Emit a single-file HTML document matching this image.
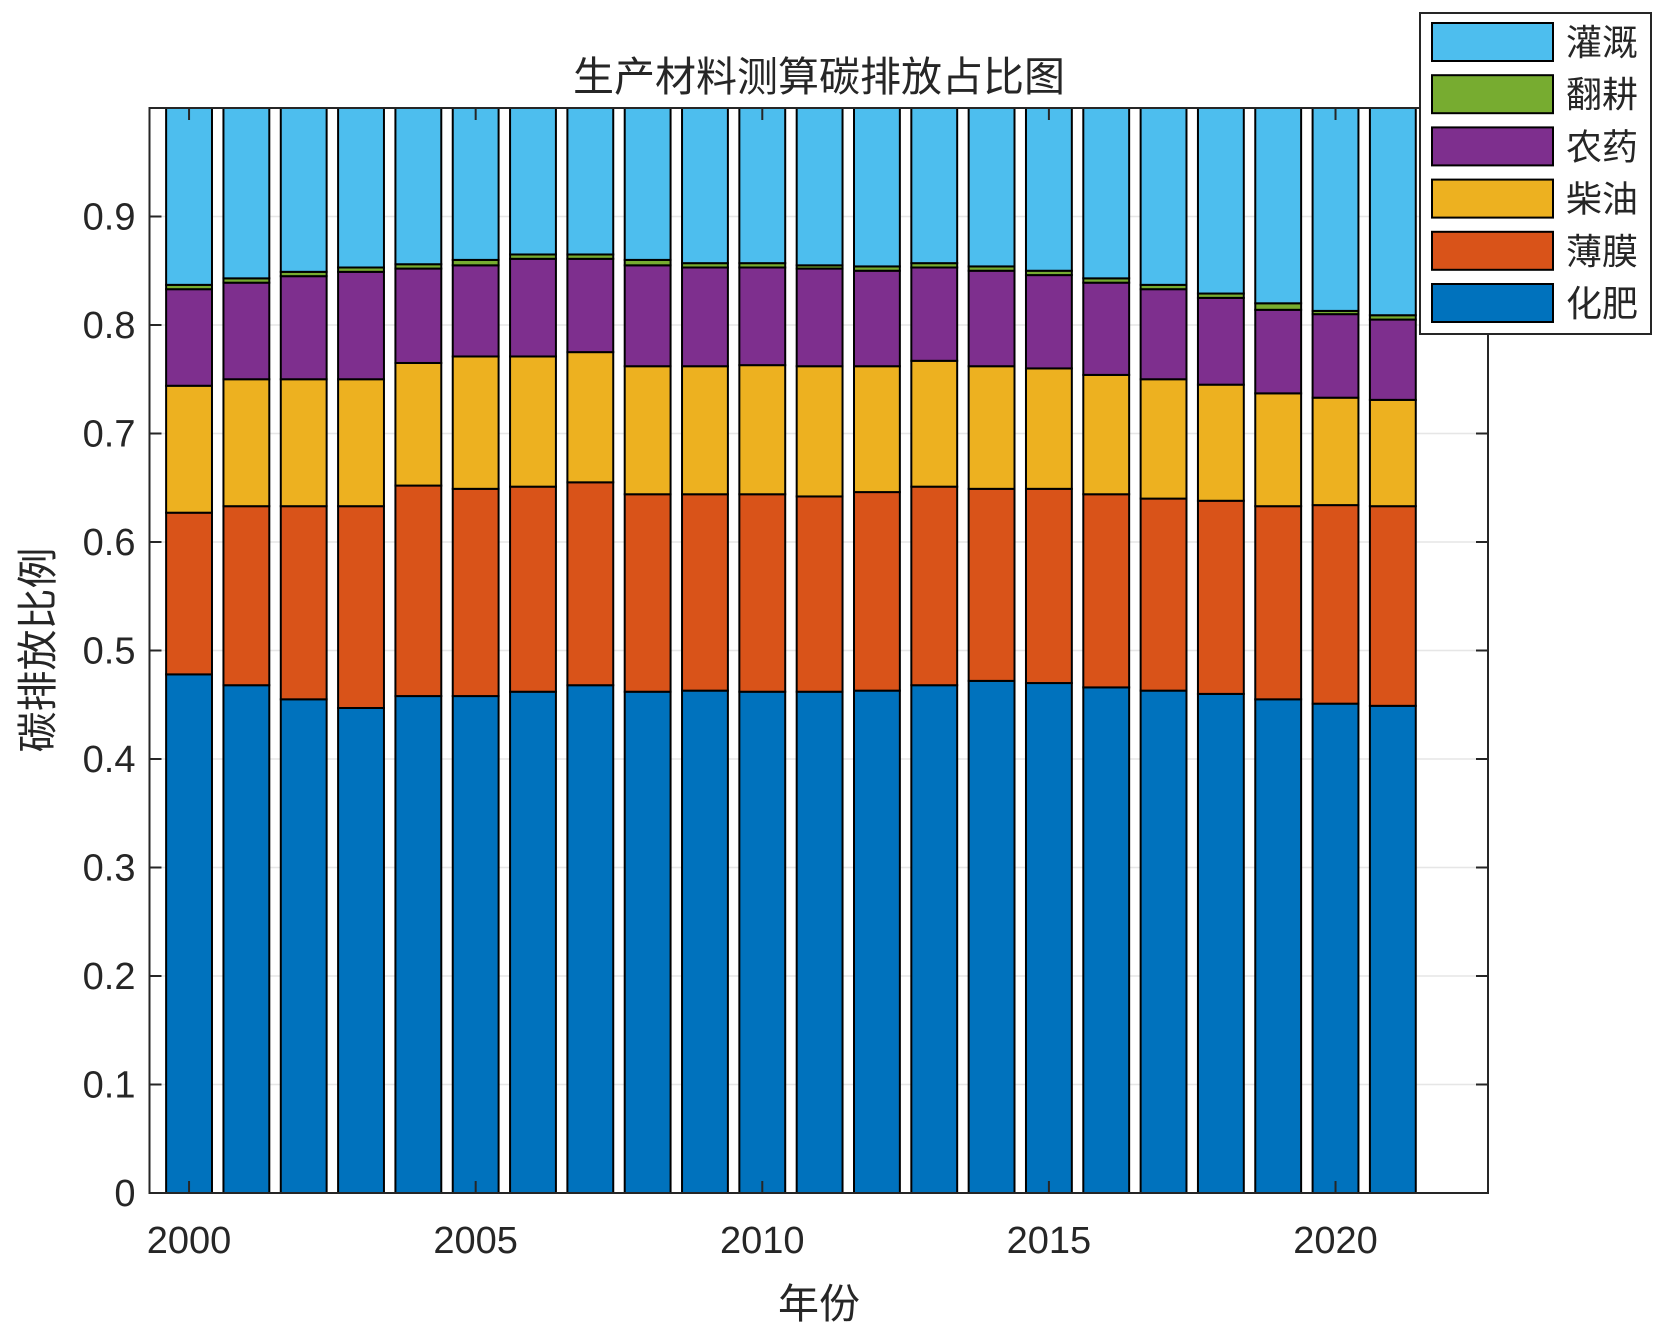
<!DOCTYPE html>
<html><head><meta charset="utf-8"><style>
html,body{margin:0;padding:0;background:#fff}
svg{display:block}
text{font-family:"Liberation Sans","Noto Sans CJK SC",sans-serif}
</style></head><body>
<svg id="chart" width="1663" height="1332" viewBox="0 0 1663 1332" xmlns="http://www.w3.org/2000/svg">
<rect width="1663" height="1332" fill="#fff"/>
<g id="grid"></g>
<g id="bars"></g>
<g id="axes"></g>
<text x="819" y="91" font-size="41" text-anchor="middle" fill="#262626">生产材料测算碳排放占比图</text>
<text x="819" y="1318" font-size="41" text-anchor="middle" fill="#262626">年份</text>
<text transform="translate(52,650) rotate(-90)" font-size="41" text-anchor="middle" fill="#262626">碳排放比例</text>
<g id="legend"></g>
</svg>
<script>
const years=[2000,2001,2002,2003,2004,2005,2006,2007,2008,2009,2010,2011,2012,2013,2014,2015,2016,2017,2018,2019,2020,2021];
const fertilizer=[0.478,0.468,0.455,0.447,0.458,0.458,0.462,0.468,0.462,0.463,0.462,0.462,0.463,0.468,0.472,0.470,0.466,0.463,0.460,0.455,0.451,0.449];
const film=[0.149,0.165,0.178,0.186,0.194,0.191,0.189,0.187,0.182,0.181,0.182,0.180,0.183,0.183,0.177,0.179,0.178,0.177,0.178,0.178,0.183,0.184];
const diesel=[0.117,0.117,0.117,0.117,0.113,0.122,0.120,0.120,0.118,0.118,0.119,0.120,0.116,0.116,0.113,0.111,0.110,0.110,0.107,0.104,0.099,0.098];
const pesticide=[0.089,0.089,0.095,0.099,0.087,0.084,0.090,0.086,0.093,0.091,0.090,0.090,0.088,0.086,0.088,0.086,0.085,0.083,0.080,0.077,0.077,0.074];
const tillage=[0.004,0.004,0.004,0.004,0.004,0.005,0.004,0.004,0.005,0.004,0.004,0.003,0.004,0.004,0.004,0.004,0.004,0.004,0.004,0.006,0.003,0.004];
const irrigation=[0.163,0.157,0.151,0.147,0.144,0.140,0.135,0.135,0.140,0.143,0.143,0.145,0.146,0.143,0.146,0.150,0.157,0.163,0.171,0.180,0.187,0.191];
const seriesNames=["化肥","薄膜","柴油","农药","翻耕","灌溉"];
const seriesSlugs=["fertilizer","film","diesel","pesticide","tillage","irrigation"];
const yTicks=[0,0.1,0.2,0.3,0.4,0.5,0.6,0.7,0.8,0.9];
const yTickLabels=["0","0.1","0.2","0.3","0.4","0.5","0.6","0.7","0.8","0.9"];
const xTicks=[2000,2005,2010,2015,2020];

const series=[fertilizer,film,diesel,pesticide,tillage,irrigation];
const colors=["#0072BD","#D95319","#EDB120","#7E2F8E","#77AC30","#4DBEEE"];
const L=149.5,R=1488,T=108,B=1193;
const xMin=1999.31,xMax=2022.66;
const X=v=>L+(v-xMin)/(xMax-xMin)*(R-L);
const Y=v=>B-v*(B-T);
const NS="http://www.w3.org/2000/svg";
function mk(tag,attrs,parent){const e=document.createElementNS(NS,tag);for(const k in attrs)e.setAttribute(k,attrs[k]);parent.appendChild(e);return e;}
const grid=document.getElementById('grid'),bars=document.getElementById('bars'),axes=document.getElementById('axes'),legend=document.getElementById('legend');
yTicks.forEach(t=>{const g=mk('line',{x1:L,x2:R,y1:Y(t),y2:Y(t),stroke:'#e6e6e6','stroke-width':1.5},grid);

});
xTicks.forEach(t=>{const g=mk('line',{x1:X(t),x2:X(t),y1:T,y2:B,stroke:'#e6e6e6','stroke-width':1.5},grid);

});
const bw=0.8*(X(1)-X(0));
years.forEach((yr,i)=>{let base=0;series.forEach((s,k)=>{const v=s[i];
const r=mk('rect',{x:X(yr)-bw/2,y:Y(base+v),width:bw,height:Y(base)-Y(base+v),fill:colors[k],stroke:'#000','stroke-width':2},bars);


base+=v;});});
mk('rect',{x:L,y:T,width:R-L,height:B-T,fill:'none',stroke:'#262626','stroke-width':2},axes);
yTicks.forEach((t,i)=>{mk('line',{x1:L,x2:L+12,y1:Y(t),y2:Y(t),stroke:'#262626','stroke-width':2},axes);
mk('line',{x1:R,x2:R-12,y1:Y(t),y2:Y(t),stroke:'#262626','stroke-width':2},axes);
const tx=mk('text',{x:L-14,y:Y(t)+13,'font-size':38,'text-anchor':'end',fill:'#262626'},axes);tx.textContent=yTickLabels[i];

});
xTicks.forEach(t=>{mk('line',{x1:X(t),x2:X(t),y1:B,y2:B-12,stroke:'#262626','stroke-width':2},axes);
mk('line',{x1:X(t),x2:X(t),y1:T,y2:T+12,stroke:'#262626','stroke-width':2},axes);
const tx=mk('text',{x:X(t),y:B+60,'font-size':38,'text-anchor':'middle',fill:'#262626'},axes);tx.textContent=String(t);

});
mk('rect',{x:1420,y:13,width:231,height:321,fill:'#fff',stroke:'#262626','stroke-width':2},legend);
for(let j=0;j<6;j++){const k=5-j;const cy=42+j*52.2;
const sw=mk('rect',{x:1432,y:cy-19,width:121,height:38,fill:colors[k],stroke:'#000','stroke-width':2},legend);


const tx=mk('text',{x:1566,y:cy+13,'font-size':36,fill:'#262626'},legend);tx.textContent=seriesNames[k];

}
</script>
</body></html>
